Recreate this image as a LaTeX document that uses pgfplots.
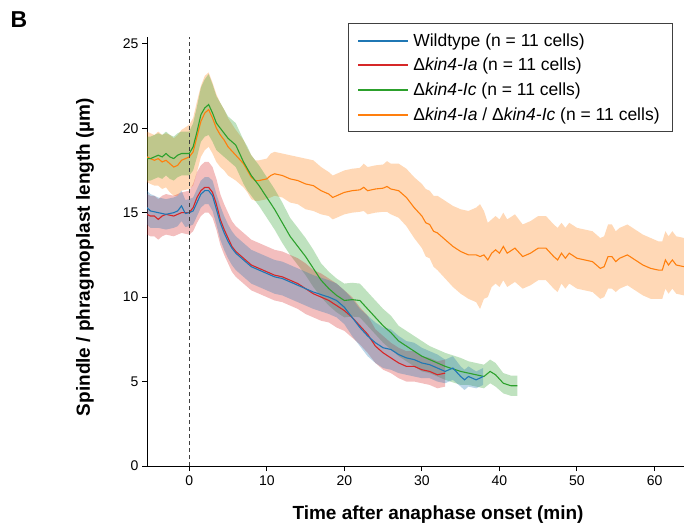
\documentclass[border=0pt]{standalone}
\usepackage{fontspec}
\setmainfont{Liberation Sans}
\usepackage{pgfplots}
\usepackage{pgfplotstable}
\pgfplotsset{compat=1.18}
\usepgfplotslibrary{fillbetween}
\definecolor{tBlue}{HTML}{1F77B4}
\definecolor{tRed}{HTML}{D62728}
\definecolor{tGreen}{HTML}{2CA02C}
\definecolor{tOrange}{HTML}{FF7F0E}

% columns: time (min), mean length (um), half width of shaded band
\pgfplotstableread{
t m d
-5.45 15.3 1.0
-5 15.1 1.0
-4 15.0 0.9
-3 14.9 0.9
-2 15.0 0.9
-1.5 15.1 0.9
-1 15.4 0.9
-0.5 14.95 0.8
0 15.0 0.8
0.5 15.1 0.8
1 15.6 0.8
1.5 16.1 0.8
2 16.3 0.8
2.5 16.3 0.8
3 16.0 0.9
3.5 15.2 0.9
4 14.4 1.0
4.5 13.8 1.0
5 13.3 1.0
5.5 12.9 1.0
6 12.6 1.0
7 12.2 1.0
8 11.8 1.0
9 11.6 1.0
10 11.4 1.0
11 11.2 1.0
12 11.1 1.0
13 10.9 1.0
14 10.7 1.0
15 10.5 1.0
16 10.3 1.0
17 10.15 1.0
18 10.0 1.0
19 9.8 1.0
20 9.4 1.0
21 8.8 1.1
22 8.2 1.1
23 7.7 1.2
24 7.3 1.2
25 7.0 1.2
26 6.9 1.2
27 6.6 1.1
28 6.4 1.0
29 6.3 1.0
30 6.1 0.9
31 6.0 0.8
32 5.8 0.8
33 5.6 0.7
34 5.8 0.7
35 5.3 0.6
35.5 5.1 0.6
36 5.3 0.6
37 5.1 0.5
37.9 5.3 0.5
}\wildtype

\pgfplotstableread{
t m d
-5.45 14.9 1.2
-5 14.8 1.2
-4.5 14.8 1.2
-4 14.6 1.2
-3.5 14.8 1.2
-3 14.9 1.2
-2 14.8 1.2
-1 15.0 1.2
0 15.0 1.3
0.5 15.3 1.4
1 15.9 1.5
1.5 16.3 1.5
2 16.5 1.5
2.5 16.5 1.5
3 16.2 1.5
3.5 15.5 1.5
4 14.6 1.5
4.5 14.0 1.5
5 13.5 1.5
5.5 13.0 1.5
6 12.7 1.5
7 12.3 1.5
8 11.9 1.5
9 11.7 1.5
10 11.5 1.5
11 11.3 1.5
12 11.2 1.5
13 11.0 1.5
14 10.8 1.5
15 10.5 1.5
16 10.2 1.4
17 10.0 1.4
18 9.8 1.3
19 9.5 1.3
20 9.2 1.2
21 8.8 1.2
22 8.3 1.1
23 7.8 1.1
24 7.1 1.0
25 6.7 1.0
26 6.4 0.9
27 6.1 0.9
28 5.9 0.9
29 5.9 0.9
30 5.7 0.8
31 5.6 0.8
32 5.4 0.8
33 5.5 0.8
}\kinIa

\pgfplotstableread{
t m d
-5.45 18.2 1.3
-5 18.2 1.3
-4 18.4 1.3
-3.5 18.3 1.3
-3 18.5 1.3
-2.5 18.3 1.3
-2 18.2 1.3
-1.5 18.4 1.3
-1 18.5 1.3
0 18.5 1.3
0.5 18.9 1.4
1 19.8 1.5
1.5 20.8 1.6
2 21.2 1.7
2.5 21.4 1.8
3 20.9 1.7
3.5 20.3 1.6
4 20.0 1.5
4.5 19.7 1.4
5 19.4 1.3
6 19.0 1.3
6.5 18.5 1.3
7 18.0 1.3
7.5 17.6 1.3
8 17.2 1.2
9 16.6 1.2
10 15.9 1.2
11 15.2 1.2
12 14.4 1.2
13 13.6 1.1
14 13.0 1.1
15 12.4 1.1
16 11.7 1.1
17 11.0 1.0
18 10.5 1.0
19 10.1 1.0
20 9.8 1.0
21 9.85 1.0
22 9.8 1.0
23 9.3 1.0
24 8.8 1.0
25 8.3 1.0
26 7.9 1.0
27 7.4 0.9
28 7.1 0.9
29 6.8 0.9
30 6.5 0.9
31 6.3 0.8
32 6.1 0.8
33 5.9 0.8
34 5.75 0.8
35 5.6 0.8
36 5.5 0.7
37 5.4 0.7
38 5.3 0.7
38.8 5.6 0.7
39.5 5.4 0.7
40.5 4.9 0.6
41.5 4.75 0.6
42.3 4.75 0.6
}\kinIc

\pgfplotstableread{
t m d
-5.45 18.3 1.5
-5 18.2 1.5
-4.5 18.1 1.5
-4 18.2 1.6
-3.5 18.0 1.6
-3 18.1 1.6
-2.5 17.9 1.7
-2 17.7 1.7
-1.5 17.8 1.8
-1 18.1 1.8
0 18.3 1.9
0.5 18.6 2.0
1 19.5 2.1
1.5 20.4 2.1
2 20.9 2.2
2.5 21.1 2.2
3 20.6 2.1
3.5 20.0 2.0
4 19.6 1.9
4.5 19.3 1.8
5 18.9 1.7
6 18.4 1.5
7 17.9 1.4
7.5 17.5 1.3
8 17.1 1.3
8.5 16.9 1.2
9 16.9 1.2
10 17.0 1.2
10.5 17.2 1.3
11 17.3 1.3
12 17.2 1.3
13 17.0 1.4
14 16.9 1.4
15 16.7 1.5
16 16.6 1.5
17 16.3 1.4
18 16.1 1.3
18.5 15.9 1.3
19 16.0 1.3
20 16.2 1.3
21 16.3 1.3
22 16.35 1.3
22.5 16.5 1.4
23 16.3 1.4
24 16.4 1.4
25 16.45 1.4
25.5 16.55 1.5
26 16.4 1.5
27 16.3 1.6
28 15.9 1.7
29 15.3 1.8
30 14.8 1.9
30.5 14.4 2.0
31 14.3 2.0
31.5 13.9 2.1
32 13.8 2.2
33 13.4 2.3
34 13.0 2.4
35 12.7 2.5
36 12.5 2.6
37 12.5 2.8
37.5 12.4 3.1
38 12.5 2.6
38.5 12.2 2.2
39 12.6 2.0
39.5 12.8 2.0
40 12.6 2.0
40.5 13.0 2.0
41 12.6 2.0
42 12.9 2.0
43 12.4 1.9
44 12.6 1.9
45 12.9 1.9
46 12.9 1.9
47 12.4 1.9
47.5 12.2 1.9
48 12.6 1.8
48.5 12.3 1.8
49 12.6 1.8
50 12.3 1.8
51 12.2 1.8
52 12.1 1.8
53 11.7 1.8
53.5 11.8 1.8
54 12.4 1.9
54.5 12.4 1.9
55 12.1 1.8
55.5 12.3 1.8
56.5 12.5 1.8
57.5 12.2 1.8
58.5 11.9 1.8
59.5 11.7 1.8
60.5 11.6 1.7
61 11.6 1.7
61.4 12.2 1.7
61.8 11.9 1.7
62.3 12.2 1.7
62.8 11.9 1.7
63.8 11.8 1.7
}\kinboth

\begin{document}
\begin{tikzpicture}
\begin{axis}[
  scale only axis, width=537pt, height=429pt,
  xmin=-5.45, xmax=63.8, ymin=0, ymax=25.4,
  axis x line=bottom, axis y line=left,
  axis line style={-, line width=1pt, black},
  xtick={0,10,...,60}, ytick={0,5,...,25},
  tick align=outside, major tick length=5pt,
  tick style={black, line width=1pt},
  /pgf/number format/assume math mode=true,
  tick label style={font=\fontsize{14}{16}\selectfont},
  xticklabel style={yshift=-1pt},
  xlabel={\textbf{Time after anaphase onset (min)}},
  ylabel={\textbf{Spindle / phragmoplast length (µm)}},
  label style={font=\fontsize{19}{22}\selectfont},
  xlabel style={at={(axis description cs:0.542,-0.114)}, anchor=center},
  ylabel style={at={(axis description cs:-0.1155,0.487)}, anchor=center},
  legend cell align=left,
  legend style={at={(0.9795,1.0326)}, anchor=north east, draw=black!75,
    line width=0.8pt, font=\fontsize{17.5}{20}\selectfont, row sep=6.5pt,
    inner xsep=9pt, inner ysep=8pt,
    nodes={inner xsep=4pt}},
  legend image code/.code={\draw[#1, line width=2pt] (0pt,0pt) -- (50pt,0pt);},
]
\addlegendimage{tBlue}
\addlegendentry{Wildtype (n = 11 cells)}
\addlegendimage{tRed}
\addlegendentry{Δ\textit{kin4-Ia} (n = 11 cells)}
\addlegendimage{tGreen}
\addlegendentry{Δ\textit{kin4-Ic} (n = 11 cells)}
\addlegendimage{tOrange}
\addlegendentry{Δ\textit{kin4-Ia} / Δ\textit{kin4-Ic} (n = 11 cells)}

\addplot[draw=none, name path=oU, forget plot] table[x=t, y expr=\thisrow{m}+\thisrow{d}] {\kinboth};
\addplot[draw=none, name path=oL, forget plot] table[x=t, y expr=\thisrow{m}-\thisrow{d}] {\kinboth};
\addplot[tOrange, fill opacity=0.3, forget plot] fill between[of=oU and oL];
\addplot[tOrange, line width=1.1pt, forget plot] table[x=t, y=m] {\kinboth};

\addplot[draw=none, name path=gU, forget plot] table[x=t, y expr=\thisrow{m}+\thisrow{d}] {\kinIc};
\addplot[draw=none, name path=gL, forget plot] table[x=t, y expr=\thisrow{m}-\thisrow{d}] {\kinIc};
\addplot[tGreen, fill opacity=0.3, forget plot] fill between[of=gU and gL];
\addplot[tGreen, line width=1.1pt, forget plot] table[x=t, y=m] {\kinIc};

\addplot[draw=none, name path=rU, forget plot] table[x=t, y expr=\thisrow{m}+\thisrow{d}] {\kinIa};
\addplot[draw=none, name path=rL, forget plot] table[x=t, y expr=\thisrow{m}-\thisrow{d}] {\kinIa};
\addplot[tRed, fill opacity=0.3, forget plot] fill between[of=rU and rL];
\addplot[tRed, line width=1.1pt, forget plot] table[x=t, y=m] {\kinIa};

\addplot[draw=none, name path=bU, forget plot] table[x=t, y expr=\thisrow{m}+\thisrow{d}] {\wildtype};
\addplot[draw=none, name path=bL, forget plot] table[x=t, y expr=\thisrow{m}-\thisrow{d}] {\wildtype};
\addplot[tBlue, fill opacity=0.3, forget plot] fill between[of=bU and bL];
\addplot[tBlue, line width=1.1pt, forget plot] table[x=t, y=m] {\wildtype};

\addplot[black!75, line width=1pt, dash pattern=on 4pt off 3pt, forget plot] coordinates {(0,0) (0,25.4)};
\end{axis}
\node[font=\fontsize{23}{26}\selectfont\bfseries] at (-128pt,446pt) {B};
\pgfresetboundingbox
\path[use as bounding box] (-147pt,-59pt) rectangle (537pt,466pt);
\end{tikzpicture}
\end{document}
